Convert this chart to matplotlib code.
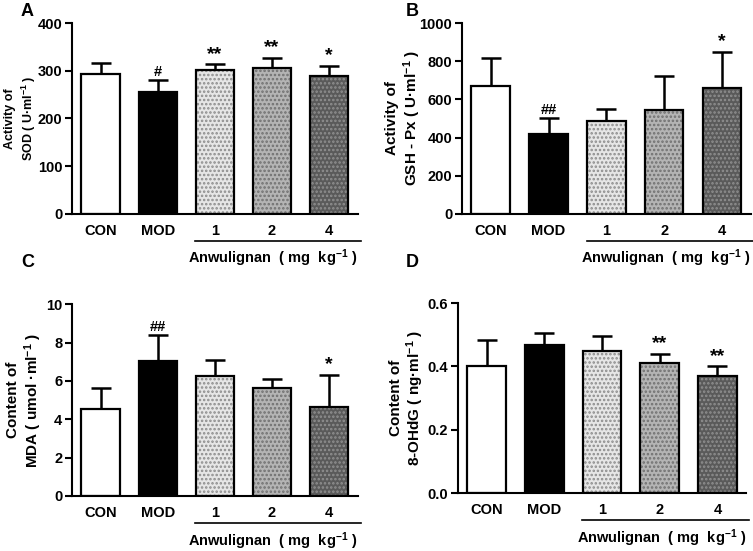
import matplotlib
matplotlib.use('Agg')
import matplotlib.pyplot as plt
import matplotlib.transforms as mtransforms
import numpy as np

plt.rcParams['font.family'] = ['Liberation Sans', 'DejaVu Sans']
plt.rcParams['font.weight'] = 'bold'
plt.rcParams['mathtext.fontset'] = 'custom'
plt.rcParams['mathtext.bf'] = 'Liberation Sans:bold'
plt.rcParams['mathtext.rm'] = 'Liberation Sans:bold'
plt.rcParams['mathtext.default'] = 'bf'
plt.rcParams['hatch.linewidth'] = 1.2

groups = ['CON', 'MOD', '1', '2', '4']

sod_mean = [294, 255, 301, 305, 290]
sod_err = [23, 25, 13, 22, 21]
sod_marks = ['', '#', '**', '**', '*']

gsh_mean = [671, 418, 486, 544, 659]
gsh_err = [145, 82, 66, 180, 192]
gsh_marks = ['', '##', '', '', '*']

mda_mean = [4.51, 7.05, 6.25, 5.64, 4.62]
mda_err = [1.11, 1.32, 0.83, 0.44, 1.70]
mda_marks = ['', '##', '', '', '*']

ohdg_mean = [0.400, 0.469, 0.448, 0.411, 0.369]
ohdg_err = [0.082, 0.035, 0.047, 0.029, 0.032]
ohdg_marks = ['', '', '', '**', '**']

face_cols = ['white', 'black', '#e6e6e6', '#b4b4b4', '#5a5a5a']
hatch_cols = ['white', 'black', '#8c8c8c', '#707070', '#909090']
hatches = ['', '', '....', '....', '....']

W, H = 753, 551
fig = plt.figure(figsize=(7.53, 5.51), dpi=100)
axA = fig.add_axes([0.0956, 0.612, 0.3795, 0.346])
axB = fig.add_axes([0.6135, 0.612, 0.3835, 0.346])
axC = fig.add_axes([0.0956, 0.100, 0.3795, 0.348])
axD = fig.add_axes([0.608, 0.105, 0.383, 0.345])


def draw_panel(ax, mean, err, marks, ymax, step, fmt):
    x = np.arange(len(groups))
    # fill + pattern first, then the black outline
    for i in range(len(groups)):
        ax.bar(x[i], mean[i], width=0.67, color=face_cols[i], hatch=hatches[i],
               edgecolor=hatch_cols[i], linewidth=0, zorder=2)
    ax.bar(x, mean, width=0.67, fill=False, edgecolor='black', linewidth=1.6, zorder=3)
    ax.errorbar(x, mean, yerr=[np.zeros(len(err)), err], fmt='none', ecolor='black',
                elinewidth=1.8, capsize=7, capthick=1.8, zorder=1)
    for i, m in enumerate(marks):
        if m:
            size = 14 if '*' in m else 10.5
            ax.annotate(m, (x[i], mean[i] + err[i]), xytext=(0, 1), textcoords='offset points',
                        ha='center', va='bottom', fontsize=size, fontweight='bold')
    ax.set_xlim(-0.5, 4.5)
    ax.set_ylim(0, ymax)
    ax.set_yticks(np.arange(0, ymax + step / 2, step))
    ax.yaxis.set_major_formatter(plt.FormatStrFormatter(fmt))
    ax.set_xticks(x)
    ax.set_xticklabels(groups)
    ax.tick_params(axis='x', length=0, pad=7, labelsize=10.5)
    ax.tick_params(axis='y', length=5, width=1.5, labelsize=10.5, direction='out', pad=2)
    for s in ['top', 'right']:
        ax.spines[s].set_visible(False)
    for s in ['left', 'bottom']:
        ax.spines[s].set_linewidth(1.5)
    trans = mtransforms.blended_transform_factory(ax.transData, ax.transAxes)
    ax.plot([1.66, 4.55], [-0.142, -0.142], color='black', linewidth=1.2,
            transform=trans, clip_on=False)
    ax.text(4.5, -0.235, r'Anwulignan  ( mg  kg$^{-1}$ )', transform=trans,
            ha='right', va='center', fontsize=10.5, fontweight='bold')


def ylabel2(ax, line1, line2, x1, x2, size):
    # two-line y label, each line placed by its centre in figure pixels
    bb = ax.get_position()
    yc = (bb.y0 + bb.y1) / 2
    fig.text(x1 / W, yc, line1, rotation=90, ha='center', va='center',
             fontsize=size, fontweight='bold')
    fig.text(x2 / W, yc, line2, rotation=90, ha='center', va='center',
             fontsize=size, fontweight='bold')


draw_panel(axA, sod_mean, sod_err, sod_marks, 400, 100, '%d')
draw_panel(axB, gsh_mean, gsh_err, gsh_marks, 1000, 200, '%d')
draw_panel(axC, mda_mean, mda_err, mda_marks, 10, 2, '%d')
draw_panel(axD, ohdg_mean, ohdg_err, ohdg_marks, 0.6, 0.2, '%.1f')

ylabel2(axA, 'Activity of', 'SOD ( U·ml$^{-1}$ )', 10, 29, 9)
ylabel2(axB, 'Activity of', 'GSH - Px ( U·ml$^{-1}$ )', 392, 412, 11)
ylabel2(axC, 'Content of', 'MDA ( umol ·ml$^{-1}$ )', 13, 33, 11)
ylabel2(axD, 'Content of', '8-OHdG ( ng·ml$^{-1}$ )', 396, 415, 11)

for letter, px, py in [('A', 21, 11), ('B', 406, 11), ('C', 21, 263), ('D', 406, 263)]:
    fig.text(px / W, 1 - py / H, letter, fontsize=13, fontweight='bold',
             ha='left', va='center')

fig.savefig('out.png', dpi=100)
